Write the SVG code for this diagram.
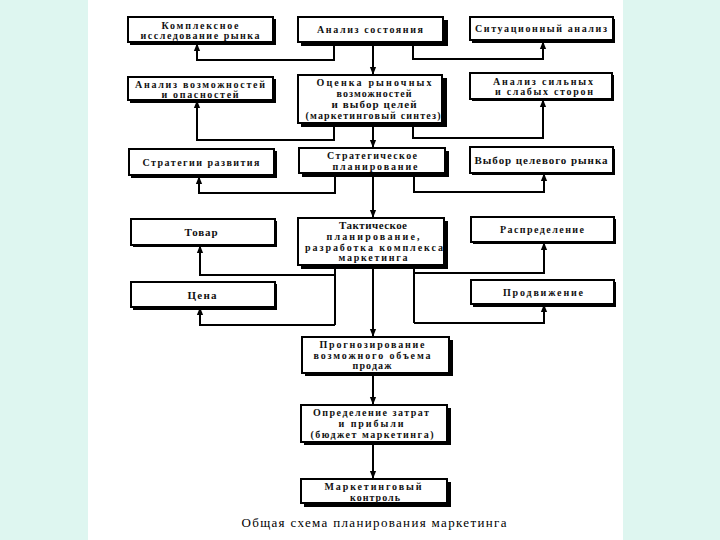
<svg xmlns="http://www.w3.org/2000/svg" width="720" height="540" viewBox="0 0 720 540">
<defs>
<style>
.bg{fill:#def6f0}
.box{fill:#fff;stroke:#000;stroke-width:2}
.sh{fill:#000}
.t{font-family:"Liberation Serif","DejaVu Serif",serif;font-size:10px;font-weight:bold;fill:#111;text-anchor:middle}
.b{font-size:11px}
.cap{font-size:13px;font-weight:normal;fill:#000}
.ln{fill:none;stroke:#000;stroke-width:2}
</style>
<marker id="ah" viewBox="0 0 10 10" refX="9" refY="5" markerWidth="4" markerHeight="4" orient="auto" markerUnits="strokeWidth">
<path d="M0,1 L10,5 L0,9 Z" fill="#000"/>
</marker>
</defs>
<rect class="bg" x="0" y="0" width="720" height="540"/>
<rect x="88" y="0" width="535" height="540" fill="#fff"/>

<g id="connectors">
<path class="ln" d="M373,43 V74" marker-end="url(#ah)"/>
<path class="ln" d="M373,124 V147" marker-end="url(#ah)"/>
<path class="ln" d="M373,175 V217" marker-end="url(#ah)"/>
<path class="ln" d="M373,267 V336" marker-end="url(#ah)"/>
<path class="ln" d="M373,375 V404" marker-end="url(#ah)"/>
<path class="ln" d="M373,444 V478" marker-end="url(#ah)"/>
<path class="ln" d="M334,43 V60 H197 V44" marker-end="url(#ah)"/>
<path class="ln" d="M413,43 V59 H543 V42" marker-end="url(#ah)"/>
<path class="ln" d="M334,124 V140 H197 V101" marker-end="url(#ah)"/>
<path class="ln" d="M413,124 V138 H543 V100" marker-end="url(#ah)"/>
<path class="ln" d="M335,175 V193 H199 V177" marker-end="url(#ah)"/>
<path class="ln" d="M414,175 V192 H544 V174" marker-end="url(#ah)"/>
<path class="ln" d="M335,267 V325"/>
<path class="ln" d="M335,275 H200 V246" marker-end="url(#ah)"/>
<path class="ln" d="M335,325 H200 V308" marker-end="url(#ah)"/>
<path class="ln" d="M414,267 V323"/>
<path class="ln" d="M414,273 H544 V243" marker-end="url(#ah)"/>
<path class="ln" d="M414,323 H544 V305" marker-end="url(#ah)"/>
</g>

<g id="n1">
<rect class="sh" x="130" y="19" width="146" height="26"/>
<rect class="box" x="128" y="17" width="145" height="25"/>
<text class="t" x="200" y="28.5" textLength="77">Комплексное</text>
<text class="t" x="200" y="39" textLength="119">исследование рынка</text>
</g>
<g id="n2">
<rect class="sh" x="301" y="20" width="147" height="26"/>
<rect class="box" x="298" y="17" width="145" height="25"/>
<text class="t" x="370" y="33" textLength="106">Анализ состояния</text>
</g>
<g id="n3">
<rect class="sh" x="472" y="19" width="143" height="24"/>
<rect class="box" x="470" y="17" width="143" height="23"/>
<text class="t" x="541" y="32" textLength="132">Ситуационный анализ</text>
</g>
<g id="n4">
<rect class="sh" x="130" y="79" width="146" height="24"/>
<rect class="box" x="128" y="77" width="145" height="23"/>
<text class="t" x="200" y="87.5" textLength="130">Анализ возможностей</text>
<text class="t" x="200" y="98" textLength="77">и опасностей</text>
</g>
<g id="n5">
<rect class="sh" x="301" y="78" width="146" height="49"/>
<rect class="box" x="298" y="75" width="144" height="48"/>
<text class="t" x="374" y="86" textLength="115">Оценка рыночных</text>
<text class="t" x="374" y="96.5" textLength="75">возможностей</text>
<text class="t b" x="374" y="107.5" textLength="85">и выбор целей</text>
<text class="t" x="373" y="118.5" textLength="135">(маркетинговый синтез)</text>
</g>
<g id="n6">
<rect class="sh" x="472" y="75" width="142" height="26"/>
<rect class="box" x="470" y="73" width="142" height="26"/>
<text class="t" x="543" y="84.5" textLength="100">Анализ сильных</text>
<text class="t" x="544" y="95" textLength="98">и слабых сторон</text>
</g>
<g id="n7">
<rect class="sh" x="131" y="151" width="146" height="27"/>
<rect class="box" x="129" y="149" width="145" height="26"/>
<text class="t" x="201" y="166" textLength="117">Стратегии развития</text>
</g>
<g id="n8">
<rect class="sh" x="302" y="151" width="147" height="26"/>
<rect class="box" x="299" y="148" width="146" height="25"/>
<text class="t" x="372" y="159" textLength="90">Стратегическое</text>
<text class="t" x="375" y="169.5" textLength="85">планирование</text>
</g>
<g id="n9">
<rect class="sh" x="472" y="149" width="143" height="26"/>
<rect class="box" x="470" y="147" width="143" height="26"/>
<text class="t b" x="541" y="164" textLength="133">Выбор целевого рынка</text>
</g>
<g id="n10">
<rect class="sh" x="133" y="221" width="144" height="26"/>
<rect class="box" x="131" y="219" width="144" height="26"/>
<text class="t b" x="201" y="236" textLength="33">Товар</text>
</g>
<g id="n11">
<rect class="sh" x="301" y="221" width="147" height="48"/>
<rect class="box" x="298" y="218" width="146" height="47"/>
<text class="t b" x="373" y="229" textLength="68">Тактическое</text>
<text class="t" x="373" y="240" textLength="93">планирование,</text>
<text class="t" x="374" y="250.5" textLength="138">разработка комплекса</text>
<text class="t" x="373" y="261" textLength="69">маркетинга</text>
</g>
<g id="n12">
<rect class="sh" x="473" y="219" width="143" height="25"/>
<rect class="box" x="471" y="217" width="143" height="25"/>
<text class="t" x="542" y="233" textLength="84">Распределение</text>
</g>
<g id="n13">
<rect class="sh" x="133" y="284" width="144" height="26"/>
<rect class="box" x="131" y="282" width="144" height="25"/>
<text class="t b" x="202" y="299" textLength="29">Цена</text>
</g>
<g id="n14">
<rect class="sh" x="473" y="282" width="143" height="25"/>
<rect class="box" x="471" y="280" width="143" height="24"/>
<text class="t" x="543" y="296" textLength="80">Продвижение</text>
</g>
<g id="n15">
<rect class="sh" x="305" y="340" width="148" height="36"/>
<rect class="box" x="302" y="337" width="147" height="36"/>
<text class="t" x="372" y="348" textLength="105">Прогнозирование</text>
<text class="t" x="372" y="358.5" textLength="117">возможного объема</text>
<text class="t" x="372" y="369" textLength="39">продаж</text>
</g>
<g id="n16">
<rect class="sh" x="304" y="408" width="147" height="37"/>
<rect class="box" x="301" y="405" width="146" height="37"/>
<text class="t" x="371" y="416" textLength="116">Определение затрат</text>
<text class="t" x="371" y="427" textLength="65">и прибыли</text>
<text class="t" x="372" y="438" textLength="123">(бюджет маркетинга)</text>
</g>
<g id="n17">
<rect class="sh" x="304" y="482" width="147" height="25"/>
<rect class="box" x="301" y="479" width="146" height="24"/>
<text class="t" x="373" y="490" textLength="97">Маркетинговый</text>
<text class="t" x="375" y="500.5" textLength="50">контроль</text>
</g>
<text class="t cap" x="374" y="527" textLength="265">Общая схема планирования маркетинга</text>
</svg>
